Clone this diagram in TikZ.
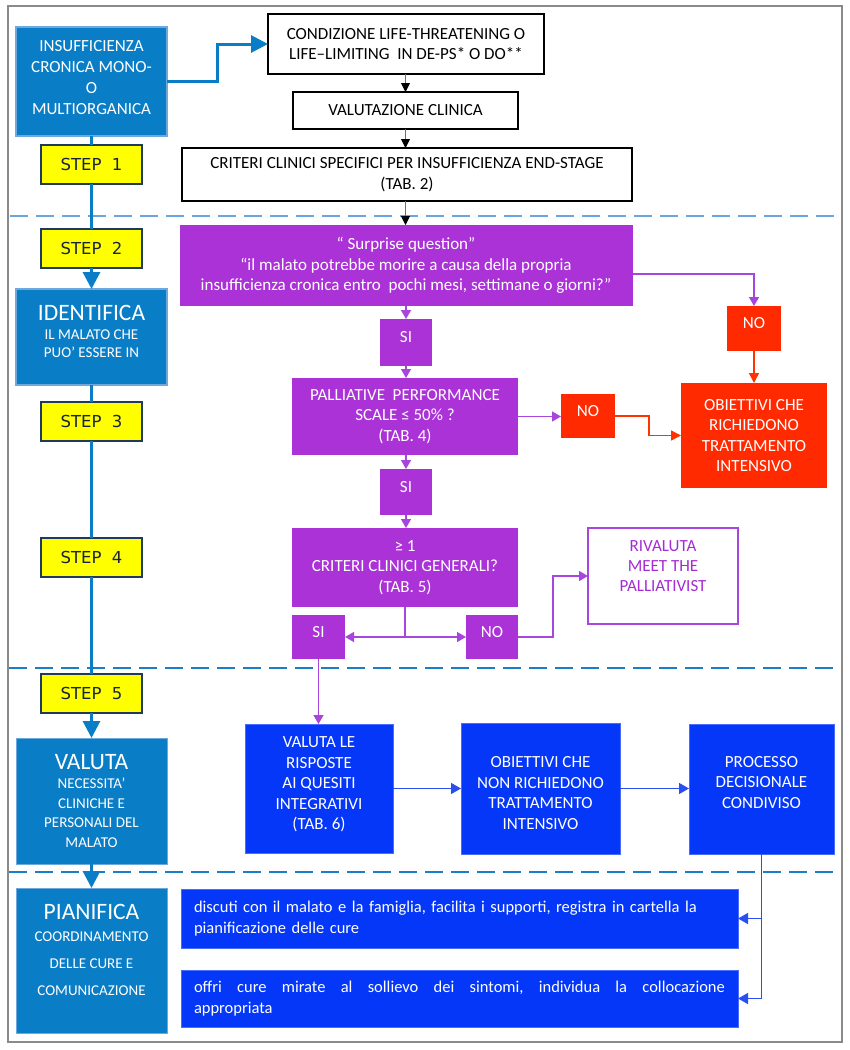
\documentclass[tikz,border=0pt]{standalone}
\usepackage{fontspec}
\setmainfont{Carlito}
\newfontfamily\stepfont{DejaVu Sans}
\usetikzlibrary{arrows.meta,calc}
\definecolor{lblue}{HTML}{0A7DC7}
\definecolor{lbord}{HTML}{6FA8DC}
\definecolor{dashA}{HTML}{6AA6DE}
\definecolor{dashB}{HTML}{1A7FC6}
\definecolor{stepy}{HTML}{FFFF00}
\definecolor{stepb}{HTML}{1F3A5F}
\definecolor{stepk}{HTML}{17243A}
\definecolor{purp}{HTML}{AA32D6}
\definecolor{plinec}{HTML}{A845DC}
\definecolor{rivc}{HTML}{A52BD4}
\definecolor{redd}{HTML}{FF2A00}
\definecolor{rlinec}{HTML}{FF3300}
\definecolor{bblue}{HTML}{0537F8}
\definecolor{bbord}{HTML}{4A6BFF}
\definecolor{blinec}{HTML}{2A4FF0}
\definecolor{klinec}{HTML}{6E6E6E}
\definecolor{framec}{HTML}{8A8A8A}
\begin{document}
\begin{tikzpicture}[x=1pt,y=-1pt,
  every node/.style={inner sep=0pt, outer sep=0pt},
  leftbox/.style={fill=lblue, draw=lbord, line width=2.4pt, minimum width=151pt},
  leftboxb/.style={fill=lblue, draw=lbord, line width=0.9pt, minimum width=151pt},
  stepbox/.style={fill=stepy, draw=stepb, line width=1.4pt, minimum width=101pt, minimum height=39pt, text=stepk, font=\stepfont\fontsize{16.5}{20}\selectfont},
  wbox/.style={fill=white, draw=black, line width=1.3pt, align=center, font=\fontsize{17}{20.5}\selectfont},
  pbox/.style={fill=purp, text=white, align=center, font=\fontsize{17}{20.5}\selectfont},
  rbox/.style={fill=redd, text=white, align=center, font=\fontsize{17}{20.5}\selectfont},
  bbox/.style={fill=bblue, draw=bbord, line width=0.8pt},
  rivbox/.style={fill=white, draw=plinec, line width=1.4pt},
  wtxt/.style={text=white, align=center, font=\fontsize{17}{20.5}\selectfont},
  yesno/.style={text height=5.5pt, text depth=5pt},
  kline/.style={draw=klinec, line width=0.9pt, -{Triangle[width=9pt,length=9pt,color=black]}},
  pline/.style={draw=plinec, line width=1.4pt, -{Triangle[width=10pt,length=9pt]}},
  rline/.style={draw=rlinec, line width=1.4pt, -{Triangle[width=10pt,length=10pt]}},
  bline/.style={draw=blinec, line width=1.4pt, -{Triangle[width=11pt,length=10pt]}},
  lline/.style={draw=lblue, line width=3pt},
  larrow/.style={draw=lblue, line width=3pt, -{Triangle[width=17pt,length=17pt]}},
  dashln/.style={line width=2.6pt, dash pattern=on 18pt off 8pt}
]
\useasboundingbox (0,0) rectangle (850,1050);
\fill[white] (0,0) rectangle (850,1050);
\draw[framec, line width=1.2pt] (8,6) rectangle (842,1042);

% dashed separators
\draw[dashA, dashln] (10,216) -- (834,216);
\draw[dashB, dashln] (9,668) -- (841,668);
\draw[dashB, dashln] (9,872) -- (841,872);

% left column
\node[leftbox, minimum height=109pt] (insuf) at (91.5,81.5) {};
\node[wtxt, font=\fontsize{17}{21}\selectfont] (insuf-t) at (91.5,77.5) {INSUFFICIENZA\\CRONICA MONO-\\O\\MULTIORGANICA};
\node[stepbox] (step1) at (91.5,164.5) {STEP~~1};
\node[stepbox] (step2) at (91.5,248.5) {STEP~~2};
\node[leftbox, minimum height=96pt] (ident) at (91.5,337) {};
\node[wtxt, font=\fontsize{15}{18}\selectfont] (ident-t) at (91.5,331) {{\fontsize{23.5}{26}\selectfont IDENTIFICA}\\[1pt]IL MALATO CHE\\PUO’ ESSERE IN};
\node[stepbox] (step3) at (91.5,421.5) {STEP~~3};
\node[stepbox] (step4) at (91.5,557.5) {STEP~~4};
\node[stepbox] (step5) at (91.5,693.5) {STEP~~5};
\node[leftboxb, minimum height=126pt, wtxt, font=\fontsize{15}{19.5}\selectfont] (valuta) at (91.5,801) {{\fontsize{23.5}{26}\selectfont VALUTA}\\NECESSITA’\\CLINICHE E\\PERSONALI DEL\\MALATO};
\node[leftboxb, minimum height=145pt] (pian) at (91.5,960.5) {};
\node[wtxt, font=\fontsize{15}{27}\selectfont] (pian-t) at (91.5,950) {{\fontsize{23.5}{26}\selectfont PIANIFICA}\\[-5.5pt]COORDINAMENTO\\DELLE CURE E\\COMUNICAZIONE};

\draw[lline] (insuf.south) -- (step1.north);
\draw[lline] (step1.south) -- (step2.north);
\draw[larrow] (step2.south) -- (ident.north);
\draw[lline] (ident.south) -- (step3.north);
\draw[lline] (step3.south) -- (step4.north);
\draw[lline] (step4.south) -- (step5.north);
\draw[larrow] (step5.south) -- (valuta.north);
\draw[larrow] (valuta.south) -- (pian.north);

% top white boxes
\node[wbox, line width=1.8pt, minimum width=276pt, minimum height=60pt] (cond) at (406,44) {CONDIZIONE LIFE-THREATENING O\\LIFE–LIMITING~~IN DE-PS* O DO**};
\node[wbox, minimum width=225pt, minimum height=37pt] (valc) at (405.5,110.5) {VALUTAZIONE CLINICA};
\node[wbox, minimum width=450pt, minimum height=53pt] (crit) at (407,174.5) {CRITERI CLINICI SPECIFICI PER INSUFFICIENZA END-STAGE\\(TAB. 2)};

\draw[larrow] (insuf.east) -- ++(50,0) |- (cond.west);
\draw[kline] (valc.north |- cond.south) -- (valc.north);
\draw[kline] (valc.south) -- (valc.south |- crit.north);

% purple section
\node[pbox, minimum width=453pt, minimum height=81pt] (surp) at (406,265.5) {“ Surprise question”\\“il malato potrebbe morire a causa della propria\\insufficienza cronica entro~~pochi mesi, settimane o giorni?”};
\draw[kline] (valc.south |- crit.south) -- (valc.south |- surp.north);

\node[pbox, yesno, minimum width=52pt, minimum height=47pt] (si1) at (406,342.5) {SI};
\node[rbox, yesno, minimum width=54pt, minimum height=45pt] (no1) at (754,328.5) {NO};
\node[pbox, minimum width=226pt, minimum height=77pt] (pps) at (405,416.5) {PALLIATIVE~~PERFORMANCE\\SCALE ≤ 50\% ?\\(TAB. 4)};
\node[rbox, yesno, minimum width=54pt, minimum height=44pt] (no2) at (588,416) {NO};
\node[rbox, minimum width=146pt, minimum height=105pt] (obr) at (754,435.5) {OBIETTIVI CHE\\RICHIEDONO\\TRATTAMENTO\\INTENSIVO};
\node[pbox, yesno, minimum width=52pt, minimum height=46pt] (si2) at (406,492) {SI};
\node[pbox, minimum width=226pt, minimum height=79pt] (cgen) at (405,567.5) {≥ 1\\CRITERI CLINICI GENERALI?\\(TAB. 5)};
\node[pbox, yesno, minimum width=53pt, minimum height=44pt] (si3) at (318.5,637) {SI};
\node[pbox, yesno, minimum width=52pt, minimum height=44pt] (no3) at (492,637) {NO};
\node[rivbox, minimum width=150pt, minimum height=96pt] (riv) at (663,576) {};
\node[text=rivc, align=center, font=\fontsize{17}{20}\selectfont] (riv-t) at (663,566) {RIVALUTA\\MEET THE\\PALLIATIVIST};

\draw[pline] (si1.north |- surp.south) -- (si1.north);
\draw[pline] ($(surp.south east)+(0,-32)$) -| (no1.north);
\draw[pline] (si1.south) -- (si1.south |- pps.north);
\draw[pline] (pps.east) -- (pps.east -| no2.west);
\draw[pline] (si2.north |- pps.south) -- (si2.north);
\draw[pline] (si2.south) -- (si2.south |- cgen.north);
\draw[pline] (cgen.south) -- ++(0,30) coordinate (br) -- (br -| si3.east);
\draw[pline] (br) -- (br -| no3.west);
\draw[pline] (no3.east) -- ++(35,0) |- (riv.west);
\draw[rline] (no1.south) -- (no1.south |- obr.north);
\draw[rline] (no2.east) -- ++(34,0) |- (obr.west);

% blue section
\node[bbox, minimum width=148pt, minimum height=129pt] (vle) at (319,788.5) {};
\node[wtxt] (vle-t) at (319,784.5) {VALUTA LE\\RISPOSTE\\AI QUESITI\\INTEGRATIVI\\(TAB. 6)};
\node[bbox, minimum width=159pt, minimum height=131pt] (obn) at (540.5,788.5) {};
\node[wtxt] (obn-t) at (540.5,793) {OBIETTIVI CHE\\NON RICHIEDONO\\TRATTAMENTO\\INTENSIVO};
\node[bbox, minimum width=145pt, minimum height=130pt] (proc) at (761.5,789) {};
\node[wtxt] (proc-t) at (761.5,782.5) {PROCESSO\\DECISIONALE\\CONDIVISO};

\draw[pline] (si3.south) -- (si3.south |- vle.north);
\draw[bline] (vle.east) -- (vle.east -| obn.west);
\draw[bline] (obn.east) -- (obn.east -| proc.west);

\node[bbox, minimum width=557pt, minimum height=59pt, text=white, align=left, text width=531pt, inner xsep=13pt, font=\fontsize{16.5}{21}\selectfont] (disc) at (459.5,918.5) {discuti con il malato e la famiglia, facilita i supporti, registra in cartella la\\pianificazione delle cure};
\node[bbox, minimum width=557pt, minimum height=57pt, text=white, align=left, text width=531pt, inner xsep=13pt, font=\fontsize{16.5}{20.5}\selectfont] (offr) at (459.5,998.5) {\hbox to 531pt{offri\hfill cure\hfill mirate\hfill al\hfill sollievo\hfill dei\hfill sintomi,\hfill individua\hfill la\hfill collocazione}\\appropriata};

\draw[bline] (proc.south) -- (proc.south |- offr.east) -- (offr.east);
\draw[bline] (proc.south |- disc.east) -- (disc.east);
\end{tikzpicture}
\end{document}
